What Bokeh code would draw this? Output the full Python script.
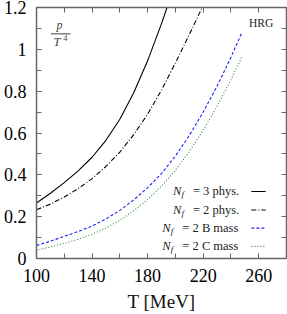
from bokeh.plotting import figure
from bokeh.models import Range1d, LinearAxis, FixedTicker, Label
from bokeh.embed import file_html
from bokeh.resources import INLINE

# ---------------- data ----------------
T_nf3 = [100, 110, 120, 130, 140, 150, 160, 170, 180, 190, 194]
P_nf3 = [0.265, 0.312, 0.363, 0.419, 0.484, 0.565, 0.666, 0.792, 0.945, 1.123, 1.2]

T_nf2 = [100, 110, 120, 130, 140, 150, 160, 170, 180, 190, 200, 210, 220]
P_nf2 = [0.233, 0.260, 0.294, 0.334, 0.382, 0.44, 0.509, 0.592, 0.69, 0.805, 0.935, 1.071, 1.21]

T_bmass = [100, 110, 120, 130, 140, 150, 160, 170, 180, 190, 200, 210, 220, 230, 240, 248]
P_bmass = [0.062, 0.083, 0.106, 0.129, 0.155, 0.189, 0.230, 0.280, 0.338, 0.406, 0.49, 0.588,
           0.70, 0.824, 0.962, 1.082]

T_cmass = [100, 110, 120, 130, 140, 150, 160, 170, 180, 190, 200, 210, 220, 230, 240, 248]
P_cmass = [0.040, 0.055, 0.072, 0.092, 0.116, 0.146, 0.183, 0.228, 0.282, 0.346, 0.422, 0.511,
           0.613, 0.728, 0.855, 0.965]

series_labels = ["= 3 phys.", "= 2 phys.", "= 2 B mass", "= 2 C mass"]

x_major = [100, 140, 180, 220, 260]
x_minor = [100, 120, 140, 160, 180, 200, 220, 240, 260, 280]
y_major = [0.0, 0.2, 0.4, 0.6, 0.8, 1.0, 1.2]
y_minor = [0.0, 0.1, 0.2, 0.3, 0.4, 0.5, 0.6, 0.7, 0.8, 0.9, 1.0, 1.1, 1.2]
y_label_overrides = {0: "0", 1: "1"}

# ---------------- styles / layout ----------------
SERIF = "Liberation Serif"
AXC = "#666666"
TXT = "#222222"
colors = ["black", "black", "#2020ff", "#2e8b2e"]
dashes = ["solid", "5 2 1 2", "3 2", "1 2"]

p = figure(width=287, height=314, x_range=Range1d(100, 280), y_range=Range1d(0, 1.2),
           output_backend="svg", toolbar_location=None,
           x_axis_location=None, y_axis_location=None,
           min_border_left=35, min_border_right=1, min_border_top=7, min_border_bottom=55)
p.outline_line_color = None
p.xgrid.visible = False
p.ygrid.visible = False
p.background_fill_color = "white"
p.border_fill_color = "white"


def make_axis(major, minor):
    ax = LinearAxis(ticker=FixedTicker(ticks=major, minor_ticks=minor))
    ax.axis_line_color = AXC
    ax.axis_line_width = 1.5
    for kind in ("major", "minor"):
        setattr(ax, kind + "_tick_line_color", AXC)
        setattr(ax, kind + "_tick_line_width", 1)
        setattr(ax, kind + "_tick_in", 5)
        setattr(ax, kind + "_tick_out", 0)
    ax.major_label_text_font = SERIF
    ax.major_label_text_font_size = "18px"
    ax.major_label_text_color = "black"
    return ax


yl = make_axis(y_major, y_minor)
yl.major_label_overrides = y_label_overrides
yl.major_label_standoff = 10
p.add_layout(yl, "left")
p.add_layout(make_axis([], y_minor), "right")

xb = make_axis(x_major, x_minor)
xb.major_label_standoff = 10
xb.axis_label = "T [MeV]"
xb.axis_label_text_font = SERIF
xb.axis_label_text_font_style = "normal"
xb.axis_label_text_font_size = "19px"
xb.axis_label_text_color = "#111111"
xb.axis_label_standoff = 6
p.add_layout(xb, "below")
p.add_layout(make_axis([], x_minor), "above")

# curves
curves = [(T_nf3, P_nf3), (T_nf2, P_nf2), (T_bmass, P_bmass), (T_cmass, P_cmass)]
for (xs, ys), c, d in zip(curves, colors, dashes):
    p.line(xs, ys, line_color=c, line_dash=d, line_width=1.1)

# legend (text left of the sample, as in the reference)
LEG_Y = [0.3205, 0.232, 0.145, 0.058]
LEG_NX = [198.2, 198.2, 190.6, 190.6]
LEG_S0, LEG_S1 = 254.7, 265.0
for i, lab in enumerate(series_labels):
    y = LEG_Y[i]
    p.add_layout(Label(x=LEG_NX[i], y=y, text="N", text_font=SERIF, text_font_style="italic",
                       text_font_size="12.5px", text_baseline="middle", text_color=TXT))
    p.add_layout(Label(x=LEG_NX[i], y=y, x_offset=8.5, y_offset=-3, text="f", text_font=SERIF,
                       text_font_style="italic", text_font_size="9px", text_baseline="middle",
                       text_color=TXT))
    p.add_layout(Label(x=LEG_NX[i], y=y, x_offset=20, text=lab, text_font=SERIF,
                       text_font_size="12.5px", text_baseline="middle", text_color=TXT))
    p.segment(x0=[LEG_S0], y0=[y], x1=[LEG_S1], y1=[y], line_color=colors[i],
              line_dash=dashes[i], line_width=1.1)

# HRG label
p.add_layout(Label(x=253.0, y=1.124, text="HRG", text_font=SERIF, text_font_size="11.5px",
                   text_baseline="middle", text_color=TXT))

# p / T^4 fraction
FX, FY = 116.5, 1.074
p.add_layout(Label(x=FX, y=FY, y_offset=2, text="p", text_font=SERIF, text_font_style="italic",
                   text_font_size="12px", text_align="center", text_baseline="bottom"))
p.segment(x0=[FX - 6.2], y0=[FY], x1=[FX + 8.0], y1=[FY], line_color="#444444", line_width=1)
p.add_layout(Label(x=FX - 1.8, y=FY, y_offset=-1.5, text="T", text_font=SERIF,
                   text_font_style="italic", text_font_size="12.5px", text_align="center",
                   text_baseline="top"))
p.add_layout(Label(x=FX + 4.3, y=FY, y_offset=-1.5, text="4", text_font=SERIF,
                   text_font_size="8.5px", text_align="center", text_baseline="top"))

open("out.html", "w").write(file_html(p, INLINE))
